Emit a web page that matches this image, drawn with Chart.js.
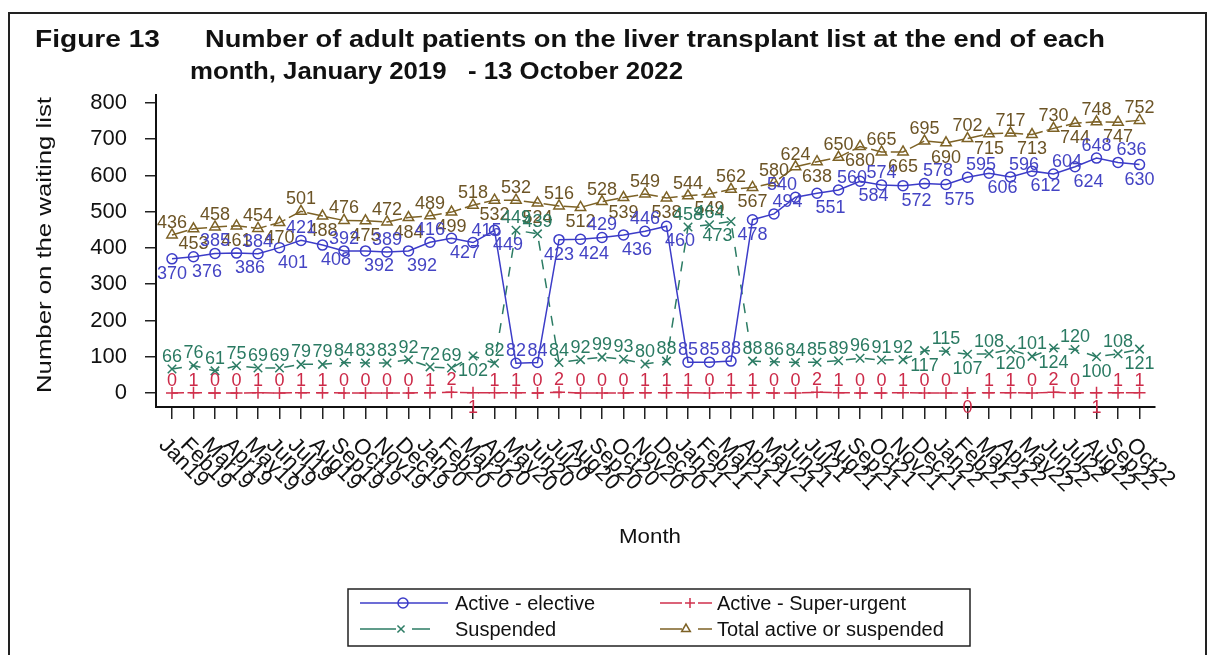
<!DOCTYPE html>
<html>
<head>
<meta charset="utf-8">
<script src="https://cdn.jsdelivr.net/npm/chart.js@4.4.0/dist/chart.umd.min.js"></script>
<style>
  html, body { margin: 0; padding: 0; background: #fff; }
  canvas { display: block; }
</style>
</head>
<body>
<canvas id="chart" width="1215" height="655"></canvas>
<script>
const months = ['Jan19','Feb19','Mar19','Apr19','May19','Jun19','Jul19','Aug19','Sep19','Oct19','Nov19','Dec19',
  'Jan20','Feb20','Mar20','Apr20','May20','Jun20','Jul20','Aug20','Sep20','Oct20','Nov20','Dec20',
  'Jan21','Feb21','Mar21','Apr21','May21','Jun21','Jul21','Aug21','Sep21','Oct21','Nov21','Dec21',
  'Jan22','Feb22','Mar22','Apr22','May22','Jun22','Jul22','Aug22','Sep22','Oct22'];

const elective = [370,376,385,386,384,401,421,408,392,392,389,392,416,427,415,449,82,84,423,424,
  429,436,446,460,85,85,88,478,494,540,551,560,584,574,572,578,575,595,606,596,
  612,604,624,648,636,630];
const superUrgent = [0,1,0,0,1,0,1,1,0,0,0,0,1,2,1,1,1,0,2,0,
  0,0,1,1,1,0,1,1,0,0,2,1,0,0,1,0,0,0,1,1,
  0,2,0,1,1,1];
const suspended = [66,76,61,75,69,69,79,79,84,83,83,92,72,69,102,82,449,439,84,92,
  99,93,80,88,458,464,473,88,86,84,85,89,96,91,92,117,115,107,108,120,
  101,124,120,100,108,121];
const totalList = [436,453,458,461,454,470,501,488,476,475,472,484,489,499,518,532,532,524,516,512,
  528,539,549,538,544,549,562,567,580,624,638,650,680,665,665,695,690,702,715,717,
  713,730,744,748,747,752];
const yTicks = [0,100,200,300,400,500,600,700,800];

const FONT = '"Liberation Sans", Arial, sans-serif';

const series = [
  { label: 'Active - elective', data: elective, color: '#3c3cc8', text: '#4444c4', style: 'circle', dash: [] },
  { label: 'Active - Super-urgent', data: superUrgent, color: '#d0304c', text: '#cc2a48', style: 'cross', dash: [12, 6] },
  { label: 'Suspended', data: suspended, color: '#2c7c64', text: '#2a7a62', style: 'crossRot', dash: [10, 9] },
  { label: 'Total active or suspended', data: totalList, color: '#7d6226', text: '#6c5426', style: 'triangle', dash: [16, 4] }
];

// draw text stretched to a given width
function fitText(ctx, txt, x, y, width) {
  const w = ctx.measureText(txt).width;
  ctx.save();
  ctx.translate(x, y);
  ctx.scale(width / w, 1);
  ctx.fillText(txt, 0, 0);
  ctx.restore();
}

const titlePlugin = {
  id: 'figTitle',
  afterDraw(chart) {
    const ctx = chart.ctx;
    ctx.save();
    ctx.strokeStyle = '#222';
    ctx.lineWidth = 2;
    ctx.strokeRect(9, 13, 1197, 700);
    ctx.fillStyle = '#111';
    ctx.font = 'bold 23px ' + FONT;
    ctx.textBaseline = 'alphabetic';
    fitText(ctx, 'Figure 13', 35, 47, 125);
    fitText(ctx, 'Number of adult patients on the liver transplant list at the end of each', 205, 47, 900);
    fitText(ctx, 'month, January 2019   - 13 October 2022', 190, 79, 493);

    // axis titles
    ctx.font = '21px ' + FONT;
    ctx.textAlign = 'left';
    ctx.textBaseline = 'middle';
    ctx.save();
    ctx.translate(45, 245);
    ctx.rotate(-Math.PI / 2);
    fitText(ctx, 'Number on the waiting list', -148, 0, 296);
    ctx.restore();
    fitText(ctx, 'Month', 619, 537, 62);
    ctx.restore();
  }
};

const monthLabels = {
  id: 'monthLabels',
  afterDraw(chart) {
    const ctx = chart.ctx;
    const xs = chart.scales.x;
    ctx.save();
    ctx.fillStyle = '#111';
    ctx.font = '22px ' + FONT;
    ctx.textAlign = 'left';
    ctx.textBaseline = 'top';
    months.forEach((m, i) => {
      const x = xs.getPixelForValue(i);
      ctx.save();
      ctx.translate(x - 2, 434);
      ctx.rotate(Math.PI / 4);
      ctx.fillText(m, 0, 0);
      ctx.restore();
    });
    ctx.restore();
  }
};

// value labels, moved below when the spot above is taken
const valueLabels = {
  id: 'valueLabels',
  afterDatasetsDraw(chart) {
    const ctx = chart.ctx;
    ctx.save();
    ctx.font = '18px ' + FONT;
    ctx.textAlign = 'left';
    ctx.textBaseline = 'top';
    const placed = [];
    const hit = r => placed.some(p => r.x1 < p.x2 && r.x2 > p.x1 && r.y1 < p.y2 && r.y2 > p.y1);
    [3, 0, 2, 1].forEach(di => {
      const meta = chart.getDatasetMeta(di);
      ctx.fillStyle = series[di].text;
      meta.data.forEach((pt, i) => {
        const txt = String(series[di].data[i]);
        const w = ctx.measureText(txt).width;
        const h = 13;
        const cands = [[0, -1], [0, 1], [0.45, -1], [-0.45, -1], [0.45, 1], [-0.45, 1]];
        let best = null;
        for (const [dx, dy] of cands) {
          const cx = pt.x + dx * w;
          const top = dy < 0 ? pt.y - 7 - h : pt.y + 7;
          const r = { x1: cx - w / 2, x2: cx + w / 2, y1: top, y2: top + h };
          if (!hit(r)) { best = r; break; }
        }
        if (!best) {
          const top = pt.y - 7 - h;
          best = { x1: pt.x - w / 2, x2: pt.x + w / 2, y1: top, y2: top + h };
        }
        placed.push(best);
        ctx.fillText(txt, best.x1, best.y1 - 1);
      });
    });
    ctx.restore();
  }
};

const legendBox = {
  id: 'legendBox',
  afterDraw(chart) {
    const ctx = chart.ctx;
    ctx.save();
    ctx.strokeStyle = '#222';
    ctx.lineWidth = 1.5;
    ctx.strokeRect(348, 589, 622, 57);
    // segments: [from, to] pieces of the sample line, marker position m
    const items = [
      { s: series[0], segs: [[360, 448]], m: 403, tx: 455, y: 603 },
      { s: series[1], segs: [[660, 682], [698, 712]], m: 690, tx: 717, y: 603 },
      { s: series[2], segs: [[360, 396], [412, 430]], m: 401, tx: 455, y: 629 },
      { s: series[3], segs: [[660, 682], [698, 712]], m: 686, tx: 717, y: 629 }
    ];
    items.forEach(it => {
      ctx.strokeStyle = it.s.color;
      ctx.lineWidth = 1.5;
      ctx.beginPath();
      it.segs.forEach(([a, b]) => { ctx.moveTo(a, it.y); ctx.lineTo(b, it.y); });
      ctx.stroke();
      ctx.fillStyle = 'rgba(0,0,0,0)';
      Chart.helpers.drawPoint(ctx, {
        pointStyle: it.s.style, radius: 5, borderWidth: 1.5, rotation: 0
      }, it.m, it.y);
      ctx.fillStyle = '#111';
      ctx.font = '20px ' + FONT;
      ctx.textBaseline = 'middle';
      ctx.fillText(it.s.label, it.tx, it.y + 1);
    });
    ctx.restore();
  }
};

new Chart(document.getElementById('chart'), {
  type: 'line',
  data: {
    datasets: series.map(s => ({
      label: s.label,
      data: s.data.map((v, i) => ({ x: i, y: v })),
      borderColor: s.color,
      backgroundColor: 'rgba(0,0,0,0)',
      borderWidth: 1.5,
      borderDash: s.dash,
      pointStyle: s.style,
      pointRadius: s.style === 'circle' ? 5 : 6,
      pointBorderColor: s.color,
      pointBackgroundColor: 'rgba(0,0,0,0)',
      pointBorderWidth: 1.5,
      tension: 0,
      fill: false
    }))
  },
  options: {
    responsive: false,
    animation: false,
    devicePixelRatio: 1,
    layout: { padding: { left: 0, right: 60, top: 95, bottom: 0 } },
    plugins: { legend: { display: false }, tooltip: { enabled: false }, title: { display: false } },
    scales: {
      x: {
        type: 'linear',
        min: -0.744,
        max: 45.72,
        afterBuildTicks: sc => { sc.ticks = months.map((m, i) => ({ value: i })); },
        afterFit: sc => { sc.height = 248; },
        grid: { drawOnChartArea: false, drawTicks: true, tickLength: 12, color: '#222', lineWidth: 1.5 },
        border: { display: true, color: '#111', width: 2 },
        ticks: { display: false }
      },
      y: {
        min: -38.6,
        max: 822,
        afterBuildTicks: sc => { sc.ticks = yTicks.map(v => ({ value: v })); },
        afterFit: sc => { sc.width = 156; },
        grid: { drawOnChartArea: false, drawTicks: true, tickLength: 11, color: '#222', lineWidth: 1.5 },
        border: { display: true, color: '#111', width: 2 },
        ticks: { color: '#111', font: { family: FONT, size: 22 }, padding: 18 }
      }
    }
  },
  plugins: [titlePlugin, monthLabels, valueLabels, legendBox]
});
</script>
</body>
</html>
